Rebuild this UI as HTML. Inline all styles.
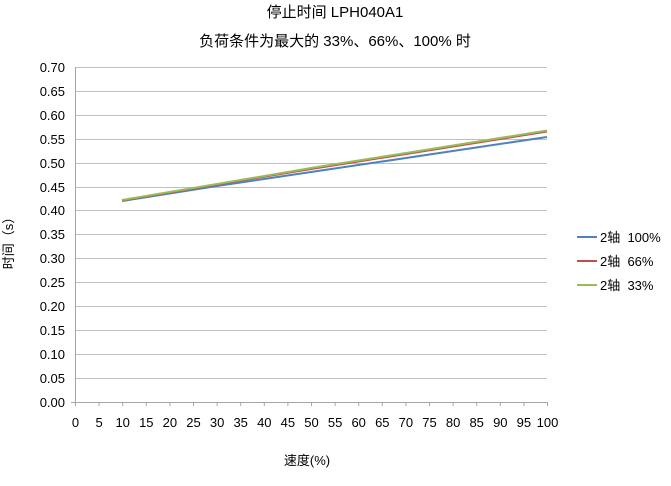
<!DOCTYPE html>
<html><head><meta charset="utf-8"><style>
body{margin:0;background:#fff}
svg text{font-family:"Liberation Sans","Noto Sans CJK SC",sans-serif;fill:#000}
</style></head><body>
<svg width="671" height="481" xmlns="http://www.w3.org/2000/svg">
<rect width="671" height="481" fill="#fff"/>
<text x="335" y="17" font-size="15" text-anchor="middle">停止时间 LPH040A1</text>
<text x="335" y="46" font-size="15" text-anchor="middle">负荷条件为最大的 33%、66%、100% 时</text>
<g stroke="#bfbfbf" stroke-width="1">
<line x1="75" y1="67.5" x2="547" y2="67.5"/><line x1="75" y1="91.5" x2="547" y2="91.5"/>
<line x1="75" y1="115.5" x2="547" y2="115.5"/><line x1="75" y1="139.5" x2="547" y2="139.5"/>
<line x1="75" y1="163.5" x2="547" y2="163.5"/><line x1="75" y1="187.5" x2="547" y2="187.5"/>
<line x1="75" y1="210.5" x2="547" y2="210.5"/><line x1="75" y1="234.5" x2="547" y2="234.5"/>
<line x1="75" y1="258.5" x2="547" y2="258.5"/><line x1="75" y1="282.5" x2="547" y2="282.5"/>
<line x1="75" y1="306.5" x2="547" y2="306.5"/><line x1="75" y1="330.5" x2="547" y2="330.5"/>
<line x1="75" y1="354.5" x2="547" y2="354.5"/><line x1="75" y1="378.5" x2="547" y2="378.5"/>
</g>
<g stroke="#a6a6a6" stroke-width="1">
<line x1="75.5" y1="67" x2="75.5" y2="402"/>
<line x1="71" y1="402.5" x2="547" y2="402.5"/>
</g>
<g stroke="#a6a6a6" id="t"></g>
<g font-size="13" text-anchor="end">
<text x="65" y="72">0.70</text><text x="65" y="96">0.65</text><text x="65" y="120">0.60</text>
<text x="65" y="144">0.55</text><text x="65" y="168">0.50</text><text x="65" y="192">0.45</text>
<text x="65" y="215">0.40</text><text x="65" y="239">0.35</text><text x="65" y="263">0.30</text>
<text x="65" y="287">0.25</text><text x="65" y="311">0.20</text><text x="65" y="335">0.15</text>
<text x="65" y="359">0.10</text><text x="65" y="383">0.05</text><text x="65" y="407">0.00</text>
</g>
<g font-size="13" text-anchor="middle" id="xl"></g>
<text x="307" y="465" font-size="13" text-anchor="middle">速度(%)</text>
<text transform="translate(13,240) rotate(-90)" font-size="13" text-anchor="middle">时间（s）</text>
<polyline fill="none" stroke="#4f81bd" stroke-width="2" points="122,201 217,186 311,172 406,158 547,137"/>
<polyline fill="none" stroke="#c0504d" stroke-width="2" points="122,200.5 217,184.5 311,169 406,154 547,131.5"/>
<polyline fill="none" stroke="#9bbb59" stroke-width="2" points="122,200 217,184 311,168 406,153 547,130.5"/>
<g stroke-width="2">
<line x1="577" y1="237" x2="597" y2="237" stroke="#4f81bd"/>
<line x1="577" y1="261" x2="597" y2="261" stroke="#c0504d"/>
<line x1="577" y1="285" x2="597" y2="285" stroke="#9bbb59"/>
</g>
<g font-size="13">
<text x="600" y="242">2轴&#160;&#160;100%</text>
<text x="600" y="266">2轴&#160;&#160;66%</text>
<text x="600" y="290">2轴&#160;&#160;33%</text>
</g>
<script>
var t=document.getElementById('t'),xl=document.getElementById('xl'),ns='http://www.w3.org/2000/svg';
for(var i=0;i<=20;i++){var x=75.5+i*23.6;var l=document.createElementNS(ns,'line');
l.setAttribute('x1',x);l.setAttribute('x2',x);l.setAttribute('y1',402);l.setAttribute('y2',406);t.appendChild(l);
var s=document.createElementNS(ns,'text');s.setAttribute('x',x);s.setAttribute('y',427);s.textContent=i*5;xl.appendChild(s);}
</script>
</svg>
</body></html>
